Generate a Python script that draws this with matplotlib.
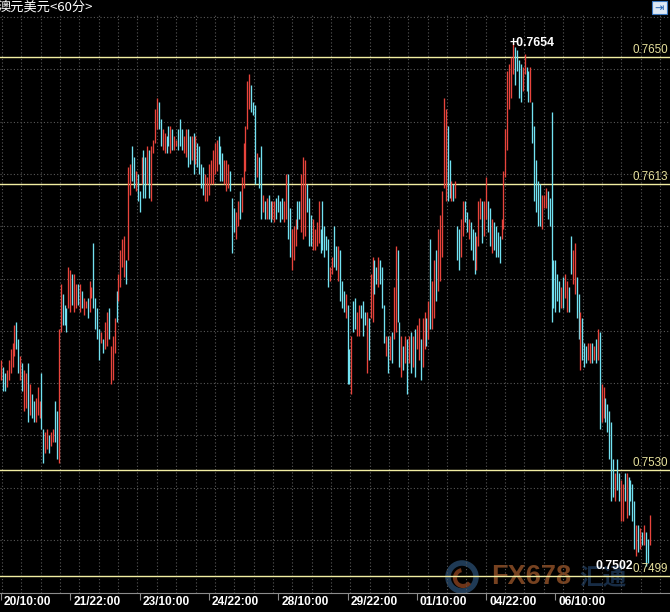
import matplotlib
matplotlib.use("Agg")
import matplotlib.pyplot as plt
import numpy as np
from matplotlib.transforms import blended_transform_factory
from matplotlib.patches import Rectangle, Ellipse, Arc

# ---------------- data (prices in pips, 1 pip = 0.0001) ----------------
highs_pips = [
    7562, 7560, 7558, 7559, 7562, 7565, 7567, 7572, 7573, 7568,
    7563, 7561, 7559, 7558, 7561, 7555, 7552, 7550, 7551, 7554,
    7550, 7558, 7542, 7541, 7542, 7540, 7541, 7542, 7550, 7547,
    7571, 7584, 7581, 7578, 7577, 7589, 7588, 7587, 7587, 7584,
    7584, 7584, 7582, 7580, 7579, 7580, 7585, 7583, 7596, 7580,
    7577, 7571, 7570, 7568, 7573, 7576, 7577, 7566, 7569, 7574,
    7582, 7587, 7594, 7597, 7598, 7591, 7618, 7619, 7624, 7621,
    7617, 7616, 7611, 7621, 7623, 7621, 7624, 7623, 7624, 7626,
    7635, 7638, 7637, 7632, 7629, 7628, 7627, 7630, 7630, 7629,
    7627, 7626, 7629, 7632, 7629, 7627, 7629, 7629, 7627, 7627,
    7628, 7627, 7625, 7624, 7619, 7618, 7616, 7615, 7619, 7620,
    7623, 7625, 7626, 7627, 7624, 7622, 7620, 7620, 7619, 7617,
    7609, 7606, 7605, 7608, 7611, 7615, 7625, 7630, 7643, 7645,
    7642, 7637, 7636, 7622, 7621, 7624, 7610, 7608, 7609, 7610,
    7608, 7608, 7608, 7609, 7610, 7608, 7609, 7608, 7616, 7616,
    7606, 7600, 7601, 7603, 7608, 7608, 7616, 7621, 7620, 7613,
    7609, 7604, 7603, 7600, 7602, 7608, 7600, 7608, 7601, 7598,
    7597, 7589, 7592, 7601, 7595, 7595, 7594, 7585, 7582, 7581,
    7578, 7565, 7569, 7579, 7580, 7576, 7578, 7578, 7579, 7576,
    7576, 7574, 7587, 7592, 7591, 7589, 7592, 7591, 7589, 7578,
    7569, 7569, 7569, 7570, 7583, 7595, 7594, 7573, 7569, 7566,
    7569, 7568, 7569, 7570, 7569, 7571, 7572, 7574, 7568, 7574,
    7576, 7574, 7579, 7597, 7585, 7591, 7594, 7600, 7604, 7611,
    7638, 7635, 7630, 7620, 7614, 7613, 7614, 7601, 7600, 7603,
    7608, 7608, 7605, 7603, 7602, 7600, 7599, 7598, 7608, 7609,
    7608, 7608, 7615, 7608, 7606, 7603, 7602, 7601, 7599, 7598,
    7603, 7617, 7629, 7646, 7648, 7650, 7654, 7653, 7652, 7649,
    7648, 7647, 7651, 7647, 7646, 7647, 7637, 7630, 7620, 7614,
    7613, 7610, 7610, 7612, 7611, 7609, 7634, 7591, 7591, 7587,
    7585, 7583, 7586, 7587, 7585, 7583, 7598, 7594, 7596, 7586,
    7581, 7576, 7574, 7567, 7566, 7567, 7567, 7567, 7566, 7568,
    7571, 7570, 7555, 7554, 7551, 7549, 7547, 7544, 7533, 7529,
    7533, 7529, 7527, 7526, 7529, 7529, 7528, 7527, 7526, 7521,
    7514, 7514, 7513, 7512, 7514, 7512, 7510, 7517,
]
lows_pips = [
    7556, 7553, 7553, 7554, 7556, 7558, 7560, 7563, 7565, 7558,
    7556, 7553, 7547, 7548, 7544, 7546, 7545, 7544, 7544, 7546,
    7545, 7542, 7532, 7535, 7536, 7535, 7537, 7538, 7538, 7533,
    7532, 7570, 7572, 7572, 7570, 7577, 7576, 7578, 7576, 7577,
    7578, 7576, 7577, 7575, 7577, 7574, 7576, 7580, 7577, 7571,
    7568, 7562, 7567, 7564, 7565, 7566, 7568, 7555, 7556, 7564,
    7573, 7579, 7583, 7589, 7586, 7584, 7591, 7610, 7614, 7612,
    7611, 7608, 7605, 7613, 7609, 7609, 7613, 7609, 7608, 7622,
    7625, 7629, 7629, 7624, 7623, 7622, 7622, 7624, 7622, 7623,
    7623, 7624, 7623, 7624, 7623, 7622, 7621, 7618, 7619, 7620,
    7616, 7619, 7618, 7616, 7612, 7610, 7608, 7608, 7610, 7613,
    7613, 7616, 7617, 7619, 7614, 7614, 7613, 7611, 7612, 7611,
    7593, 7599, 7597, 7601, 7603, 7605, 7612, 7617, 7629, 7635,
    7634, 7633, 7613, 7615, 7612, 7603, 7605, 7603, 7603, 7603,
    7602, 7603, 7602, 7603, 7605, 7602, 7603, 7602, 7603, 7597,
    7592, 7588, 7591, 7595, 7600, 7603, 7599, 7597, 7598, 7605,
    7595, 7595, 7594, 7594, 7595, 7596, 7593, 7594, 7592, 7594,
    7583, 7585, 7587, 7589, 7588, 7585, 7579, 7577, 7576, 7574,
    7555, 7555, 7552, 7570, 7571, 7569, 7569, 7574, 7569, 7572,
    7558, 7562, 7574, 7573, 7581, 7584, 7583, 7584, 7577, 7567,
    7563, 7558, 7562, 7561, 7568, 7570, 7573, 7560, 7557, 7559,
    7561, 7552, 7561, 7558, 7560, 7557, 7565, 7562, 7556, 7560,
    7565, 7566, 7568, 7571, 7571, 7574, 7579, 7582, 7585, 7592,
    7612, 7608, 7608, 7609, 7608, 7608, 7609, 7591, 7588, 7592,
    7598, 7602, 7599, 7597, 7594, 7591, 7587, 7588, 7595, 7603,
    7596, 7598, 7603, 7599, 7595, 7593, 7594, 7592, 7592, 7590,
    7597, 7600, 7615, 7623, 7635, 7638, 7645, 7642, 7646, 7638,
    7637, 7640, 7645, 7640, 7637, 7637, 7625, 7608, 7605, 7601,
    7601, 7600, 7606, 7606, 7603, 7601, 7573, 7577, 7576, 7579,
    7576, 7577, 7577, 7580, 7576, 7576, 7587, 7584, 7581, 7574,
    7568, 7559, 7562, 7560, 7561, 7562, 7561, 7561, 7562, 7561,
    7562, 7542, 7544, 7545, 7544, 7541, 7533, 7521, 7522, 7521,
    7524, 7521, 7515, 7515, 7521, 7516, 7517, 7521, 7515, 7507,
    7505, 7506, 7507, 7508, 7508, 7502, 7503, 7508,
]
# 1 = rising bar (red), 0 = falling bar (cyan)
up = [
    1, 0, 0, 1, 1, 1, 1, 1, 0, 0,
    1, 0, 1, 1, 0, 1, 0, 0, 1, 1,
    1, 0, 0, 1, 1, 0, 1, 1, 0, 0,
    1, 1, 0, 0, 0, 1, 1, 0, 1, 1,
    0, 1, 0, 1, 1, 0, 1, 1, 0, 0,
    0, 0, 1, 0, 1, 1, 0, 1, 1, 1,
    0, 1, 1, 1, 1, 0, 1, 1, 0, 0,
    1, 0, 0, 1, 0, 0, 1, 0, 1, 1,
    1, 1, 0, 0, 1, 1, 0, 0, 1, 0,
    1, 1, 0, 0, 0, 1, 1, 0, 0, 1,
    0, 1, 0, 0, 0, 0, 1, 1, 1, 1,
    1, 1, 1, 0, 0, 0, 1, 1, 1, 0,
    0, 0, 1, 1, 0, 1, 1, 1, 1, 1,
    0, 0, 0, 1, 0, 0, 1, 0, 1, 0,
    0, 1, 1, 0, 0, 0, 0, 1, 1, 0,
    0, 1, 1, 1, 0, 0, 1, 1, 1, 0,
    0, 0, 1, 1, 1, 1, 0, 0, 0, 0,
    0, 1, 1, 0, 0, 1, 0, 0, 0, 1,
    0, 0, 1, 0, 0, 1, 1, 0, 0, 0,
    1, 0, 1, 1, 0, 0, 1, 0, 0, 0,
    1, 0, 1, 0, 1, 1, 0, 0, 1, 0,
    1, 0, 1, 0, 1, 0, 1, 1, 0, 1,
    1, 0, 1, 0, 1, 1, 0, 1, 1, 1,
    1, 1, 0, 0, 1, 0, 1, 0, 0, 1,
    1, 0, 0, 1, 0, 0, 0, 1, 1, 1,
    0, 1, 1, 0, 0, 1, 0, 0, 0, 0,
    1, 1, 1, 1, 1, 1, 1, 0, 0, 0,
    0, 1, 1, 0, 0, 1, 0, 0, 0, 0,
    0, 1, 1, 1, 0, 0, 0, 0, 0, 0,
    0, 1, 0, 1, 1, 0, 0, 1, 1, 0,
    0, 1, 0, 0, 0, 1, 1, 0, 1, 0,
    1, 0, 1, 1, 0, 0, 0, 0, 0, 1,
    0, 0, 1, 1, 0, 1, 0, 0, 0, 0,
    1, 0, 1, 0, 1, 0, 0, 1,
]
tick_labels = ["20/10:00", "21/22:00", "23/10:00", "24/22:00", "28/10:00",
               "29/22:00", "01/10:00", "04/22:00", "06/10:00"]
tick_step = 36          # bars between labelled ticks
levels = [0.7650, 0.7613, 0.7530, 0.7499]
title = "澳元美元<60分>"

# ---------------- figure ----------------
plt.rcParams['font.family'] = ['Liberation Sans', 'DejaVu Sans']
W, H = 670, 612
highs = np.array(highs_pips) / 10000.0
lows = np.array(lows_pips) / 10000.0
n = len(highs)
xs = np.arange(n)

fig = plt.figure(figsize=(W / 100, H / 100), dpi=100, facecolor='black')
AX_TOP, AX_BOT = 14, 593
ax = fig.add_axes([0, (H - AX_BOT) / H, 1, (AX_BOT - AX_TOP) / H], facecolor='black')
px_per_bar = 1.925
ax.set_xlim(-1 / px_per_bar, (W - 1) / px_per_bar)
ax.set_ylim(0.749419, 0.76625)

def afx(x):
    return x / W

def afy(y):
    return (AX_BOT - y) / (AX_BOT - AX_TOP)

# dotted grid (fixed pixel spacing like the terminal)
gcol = '#585858'
for k in range(11):
    fy = afy(17 + 52.3 * k)
    ax.plot([0, 1], [fy, fy], transform=ax.transAxes, color=gcol, lw=0.8,
            ls=(0, (1, 2)), zorder=1)
for k in range(35):
    fx = afx(2 + 19.35 * k)
    if fx > 1:
        break
    ax.plot([fx, fx], [0, 1], transform=ax.transAxes, color=gcol, lw=0.8,
            ls=(0, (1, 2)), zorder=1)

# watermark (behind everything)
ax.add_patch(Ellipse((afx(462), afy(577)), 28 / W, 28 / (AX_BOT - AX_TOP),
                     transform=ax.transAxes, facecolor='none',
                     edgecolor='#1f3a55', lw=4, zorder=0.5))
ax.add_patch(Arc((afx(463), afy(578)), 16 / W, 16 / (AX_BOT - AX_TOP),
                 theta1=100, theta2=320, transform=ax.transAxes,
                 edgecolor='#6e3418', lw=3, zorder=0.5))
ax.text(afx(491), afy(577), "FX678", transform=ax.transAxes, ha='left', va='center',
        fontsize=19.5, fontweight='bold', color='#774220',
        family=['Liberation Sans Narrow', 'Liberation Sans'], zorder=0.5)
ax.text(afx(579), afy(578), "汇通", transform=ax.transAxes, ha='left', va='center',
        fontsize=17, fontweight='bold', color='#172c45',
        family=['Noto Sans CJK SC', 'DejaVu Sans'], zorder=0.5)

# level lines and labels
ycol = '#f2eea2'
btr = blended_transform_factory(ax.transAxes, ax.transData)
for lv in levels:
    ax.axhline(lv, color=ycol, lw=1.0, zorder=2)
    ax.annotate(f"{lv:.4f}", xy=(1 - 2 / W, lv), xycoords=btr, xytext=(0, 1),
                textcoords='offset pixels', ha='right', va='bottom',
                fontsize=8.4, color='#e6e09c', zorder=6, annotation_clip=False)

# bars
red, cyan = '#e8443c', '#72e2f2'
cols = [red if u else cyan for u in up]
ax.vlines(xs, lows, highs, colors=cols, linewidth=0.95, zorder=3)

# high / low markers
imax = int(np.argmax(highs))
imin = int(np.argmin(lows))
ax.annotate(f"+{highs[imax]:.4f}", xy=(imax, highs[imax]), xytext=(-4, 0),
            textcoords='offset pixels', ha='left', va='center', color='white',
            fontsize=8.8, fontweight='bold', zorder=7)
ax.annotate(f"{lows[imin]:.4f}", xy=(imin, lows[imin]), xytext=(-13, 0),
            textcoords='offset pixels', ha='right', va='center', color='white',
            fontsize=8.8, fontweight='bold', zorder=7)

# x axis
tick_pos = np.arange(len(tick_labels)) * tick_step
ax.set_xticks(tick_pos)
ax.set_xticklabels([])
ax.set_yticks([])
ax.tick_params(axis='x', length=5, width=0.8, color='#8c8c8c', direction='out')
for s in ['top', 'left', 'right']:
    ax.spines[s].set_visible(False)
ax.spines['bottom'].set_color('#8c8c8c')
ax.spines['bottom'].set_linewidth(0.8)
xtr = blended_transform_factory(ax.transData, ax.transAxes)
for p, lab in zip(tick_pos, tick_labels):
    ax.annotate(lab, xy=(p, 0), xycoords=xtr, xytext=(3, -9),
                textcoords='offset pixels', ha='left', va='center', color='white',
                fontsize=8.6, fontweight='bold', annotation_clip=False)

# title and corner icon
fig.text(-2 / W, 1 - 7 / H, title, ha='left', va='center', color='white',
         fontsize=9.5, family=['Noto Sans CJK SC', 'DejaVu Sans'])
fig.add_artist(Rectangle((652 / W, 1 - 14 / H), 15 / W, 13 / H, transform=fig.transFigure,
                         facecolor='#dde8f4', edgecolor='#3a78c0', lw=0.8))
fig.text(659.5 / W, 1 - 7.5 / H, "⇥", ha='center', va='center', color='#2060b0',
         fontsize=8, family=['DejaVu Sans'])

fig.savefig('out.png', dpi=100, facecolor='black')
